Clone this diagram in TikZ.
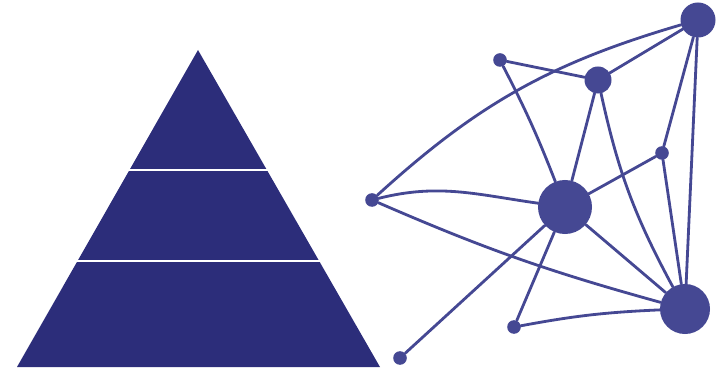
\documentclass[tikz,border=0pt]{standalone}
\definecolor{pyramidblue}{RGB}{44,45,122}
\definecolor{netblue}{RGB}{69,72,147}
\tikzset{
  layer/.style={fill=pyramidblue, draw=none},
  gapline/.style={line width=0.065cm, draw=white, line cap=butt},
  hub/.style={circle, fill=netblue, draw=none, inner sep=0pt},
  link/.style={line width=2pt, draw=netblue, line cap=round},
}

\begin{document}
\begin{tikzpicture}[x=0.025cm, y=0.025cm]
\useasboundingbox (0,0) rectangle (718,369);
% pyramid
\fill[layer] (198,319) -- (380,2) -- (17,2) -- cycle;
\draw[gapline] (120,199) -- (280,199);
\draw[gapline] (60,108) -- (340,108);
% network
\node[hub, minimum size=0.875cm] (n1) at (698,349) {};
\node[hub, minimum size=0.675cm] (n2) at (598,289) {};
\node[hub, minimum size=0.34cm] (n3) at (500,309) {};
\node[hub, minimum size=0.34cm] (n4) at (662,216) {};
\node[hub, minimum size=1.35cm] (n5) at (565,162) {};
\node[hub, minimum size=0.34cm] (n6) at (372,169) {};
\node[hub, minimum size=1.25cm] (n7) at (685,60) {};
\node[hub, minimum size=0.34cm] (n8) at (514,42) {};
\node[hub, minimum size=0.34cm] (n9) at (400,11) {};
\draw[link] (n6) to[bend left=13] (n1);
\draw[link] (n6) to[out=14, in=172] (n5);
\draw[link] (n6) to[bend right=4] (n7);
\draw[link] (n3) -- (n2);
\draw[link] (n3) to[bend left=3] (n5);
\draw[link] (n2) -- (n1);
\draw[link] (n2) -- (n5);
\draw[link] (n2) to[bend right=8] (n7);
\draw[link] (n1) -- (n4);
\draw[link] (n1) -- (n7);
\draw[link] (n4) -- (n5);
\draw[link] (n4) -- (n7);
\draw[link] (n5) -- (n7);
\draw[link] (n5) -- (n8);
\draw[link] (n5) -- (n9);
\draw[link] (n8) to[bend left=4] (n7);
\end{tikzpicture}
\end{document}
